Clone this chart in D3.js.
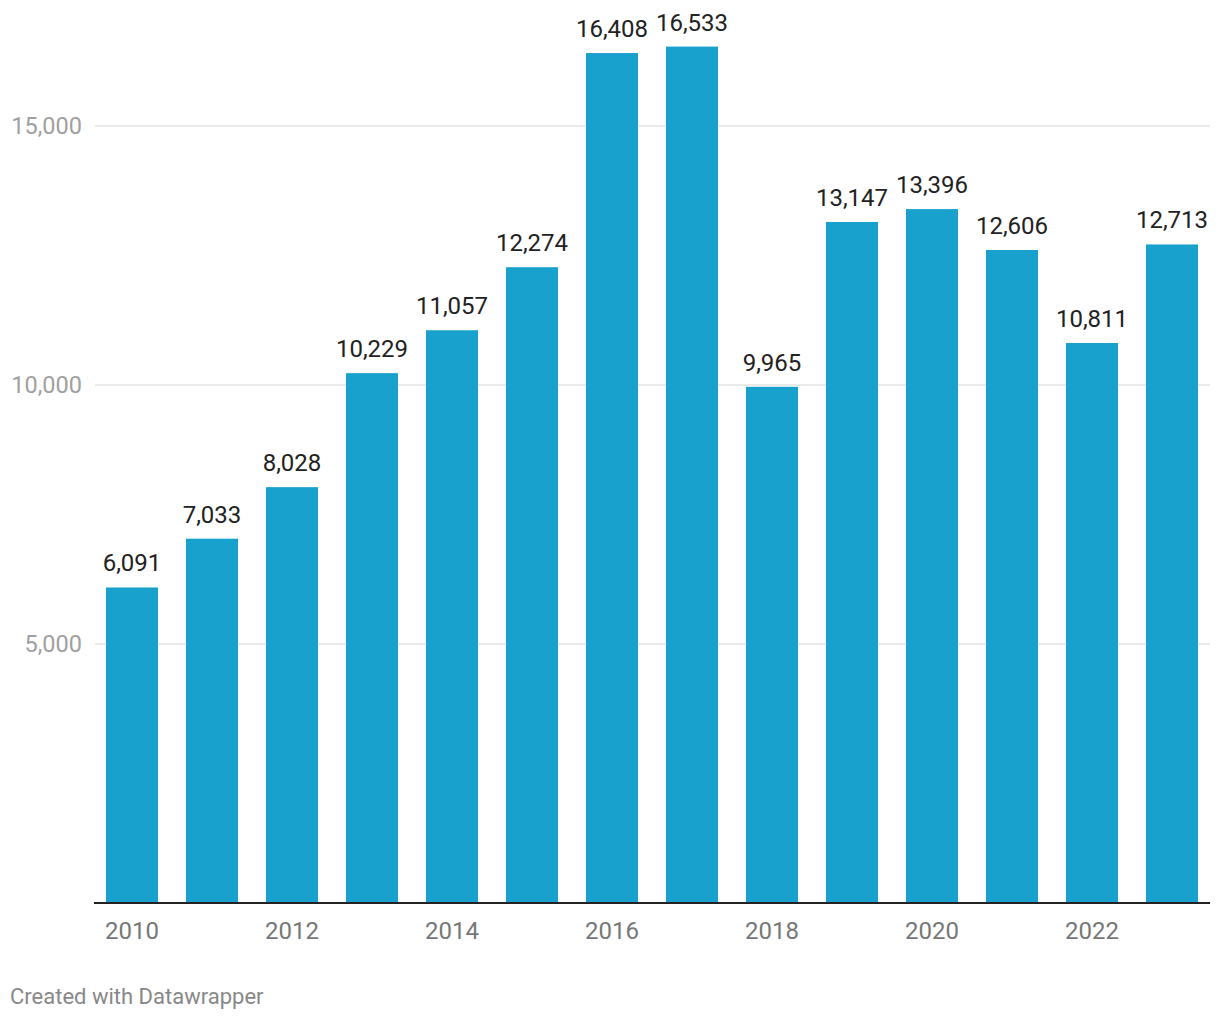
<!DOCTYPE html>
<html><head><meta charset="utf-8">
<script src="https://cdn.jsdelivr.net/npm/d3@7"></script>
<style>body{margin:0;background:#fff;font-family:Roboto,sans-serif}</style>
</head><body>
<svg id="c" width="1220" height="1020"></svg>
<script>
const years = [2010,2011,2012,2013,2014,2015,2016,2017,2018,2019,2020,2021,2022,2023];
const values = [6091,7033,8028,10229,11057,12274,16408,16533,9965,13147,13396,12606,10811,12713];
const yTicks = [5000,10000,15000];
const xTickYears = [2010,2012,2014,2016,2018,2020,2022];

const svg = d3.select("#c");
const x = d3.scaleBand().domain(years).range([92,1212]).paddingInner(0.35).paddingOuter(0.175);
const y = d3.scaleLinear().domain([0,15000]).range([903,126]);
const fmt = d3.format(",");

const g = svg.append("g");
g.selectAll("line.grid").data(yTicks).join("line")
  .attr("x1",95).attr("x2",1210).attr("y1",d=>y(d)).attr("y2",d=>y(d))
  .attr("stroke","#e3e3e3").attr("stroke-width",1.5);
g.selectAll("text.yl").data(yTicks).join("text")
  .attr("x",82).attr("y",d=>y(d)+8).attr("text-anchor","end")
  .attr("font-size",23.5).attr("fill","#a0a0a0").text(d=>fmt(d));

g.selectAll("rect").data(values).join("rect")
  .attr("x",(d,i)=>x(years[i])).attr("width",x.bandwidth())
  .attr("y",d=>y(d)).attr("height",d=>y(0)-y(d)).attr("fill","#18a1cd");

g.selectAll("text.v").data(values).join("text")
  .attr("x",(d,i)=>x(years[i])+x.bandwidth()/2).attr("y",d=>y(d)-16)
  .attr("text-anchor","middle").attr("font-size",24).attr("fill","#222").text(d=>fmt(d));

g.append("line").attr("x1",94).attr("x2",1210).attr("y1",903).attr("y2",903)
  .attr("stroke","#222").attr("stroke-width",2);

g.selectAll("text.xl").data(xTickYears).join("text")
  .attr("x",d=>x(d)+x.bandwidth()/2).attr("y",939).attr("text-anchor","middle")
  .attr("font-size",24).attr("fill","#777").text(d=>d);

svg.append("text").attr("x",10).attr("y",1004).attr("font-size",22).attr("fill","#888")
  .text("Created with Datawrapper");
</script>
</body></html>
